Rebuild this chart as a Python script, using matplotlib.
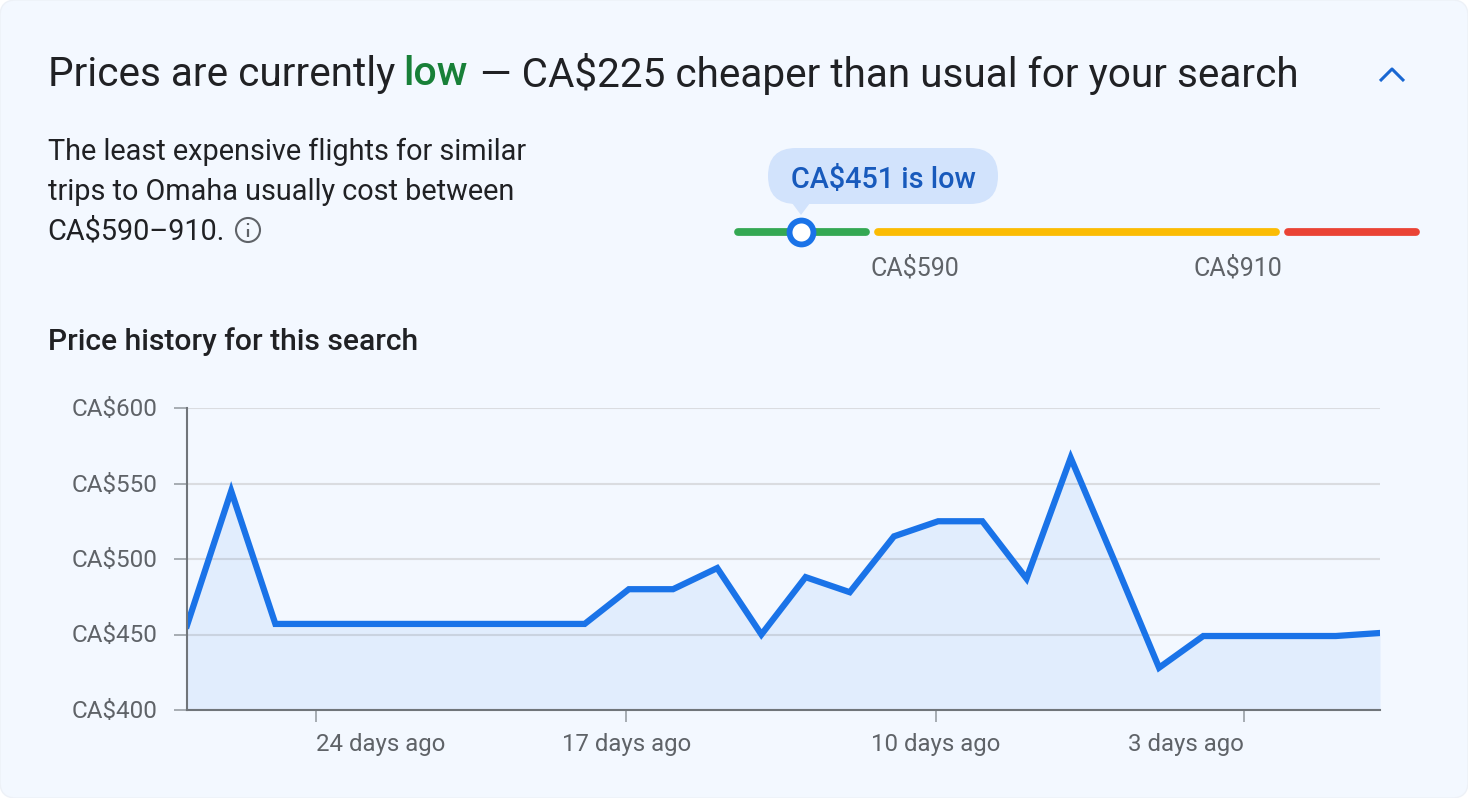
import matplotlib

matplotlib.use("Agg")
import matplotlib.pyplot as plt
import numpy as np
from matplotlib.patches import Circle, FancyBboxPatch, Polygon
from matplotlib.transforms import ScaledTranslation

plt.rcParams["font.family"] = ["Roboto", "DejaVu Sans"]

# price history, one value a day
days_ago = np.arange(27, -1, -1)
prices = [456, 545, 457, 457, 457, 457, 457, 457, 457, 457, 480, 480, 494, 450,
          488, 478, 515, 525, 525, 487, 567, 498, 428, 449, 449, 449, 449, 451]
y_ticks = [400, 450, 500, 550, 600]
y_tick_labels = ["CA$400", "CA$450", "CA$500", "CA$550", "CA$600"]
x_ticks = [24.08, 17.06, 10.05, 3.08]
x_tick_labels = ["24 days ago", "17 days ago", "10 days ago", "3 days ago"]

# price range slider
range_lows = [316, 590, 910]
range_highs = [590, 910, 1018]
range_colors = ["#34A853", "#FBBC04", "#EA4335"]
current_price = 451

W, H = 1468, 798
BG = "#F3F8FF"
DARK = "#202124"
GREY = "#5F6368"
BLUE = "#1A73E8"

fig = plt.figure(figsize=(W / 100, H / 100), dpi=100, facecolor="white")

# overlay in pixel coordinates for the card, the text and the slider
ov = fig.add_axes([0, 0, 1, 1])
ov.set_xlim(0, W)
ov.set_ylim(H, 0)
ov.axis("off")
ov.add_patch(FancyBboxPatch((0, 0), W, H, boxstyle="round,pad=0,rounding_size=16",
                            fc=BG, ec="#EDF1F7", lw=1, clip_on=False))

# title
ov.text(48, 74, "Prices are currently", fontsize=29.2, color=DARK, va="center")
ov.text(403, 74, "low", fontsize=29.6, color="#188038", va="center", fontweight="medium")
ov.text(480.5, 74, "— CA$225 cheaper than usual for your search", fontsize=29.2,
        color=DARK, va="center")
ov.plot([1380, 1392, 1404], [81, 69, 81], color="#1967D2", lw=2.2, solid_capstyle="butt")

# description
for y, line in zip([152, 192, 232], ["The least expensive flights for similar",
                                     "trips to Omaha usually cost between",
                                     "CA$590–910."]):
    ov.text(47.5, y, line, fontsize=20.8, color=DARK, va="center")
ov.add_patch(Circle((248, 230), 12, fc="none", ec=GREY, lw=1.5))
ov.plot([248, 248], [229, 237], color=GREY, lw=1.6, solid_capstyle="butt")
ov.plot([248, 248], [222.5, 225], color=GREY, lw=1.6, solid_capstyle="butt")


def track_x(price):
    # the slider is not linear, each range has its own width
    return np.interp(price, [316, 590, 910, 1018], [732, 872, 1282, 1422])


for lo, hi, c in zip(range_lows, range_highs, range_colors):
    ov.plot([track_x(lo) + 6, track_x(hi) - 6], [232, 232], color=c, lw=5.6,
            solid_capstyle="round")
ov.plot(track_x(current_price), 232, "o", ms=17.2, mfc="white", mec=BLUE, mew=4.2, zorder=5)
ov.text(870.5, 268, "CA$590", fontsize=18, color=GREY, va="center", ha="left")
ov.text(1282.5, 268, "CA$910", fontsize=18, color=GREY, va="center", ha="right")

# bubble
ov.add_patch(FancyBboxPatch((768, 148), 230, 56, boxstyle="round,pad=0,rounding_size=28",
                            fc="#D2E3FC", ec="none"))
ov.add_patch(Polygon([(792, 203), (810, 203), (801, 215)], fc="#D2E3FC", ec="none"))
ov.text(883, 180, "CA$451 is low", fontsize=20.7, color="#185ABC", va="center", ha="center",
        fontweight="medium")

ov.text(48, 342, "Price history for this search", fontsize=21.6, color=DARK, va="center",
        fontweight="medium")

# chart
ax = fig.add_axes([187 / W, 1 - 710 / H, (1380 - 187) / W, (710 - 408) / H])
ax.patch.set_alpha(0)
ax.set_xlim(27, 0)
ax.set_ylim(400, 600)
ax.set_axisbelow(True)
ax.grid(axis="y", color="#DADCE0", lw=1.5)
ax.fill_between(days_ago, prices, 400, color=BLUE, alpha=0.08, lw=0)
ax.plot(days_ago, prices, color=BLUE, lw=4.5, solid_joinstyle="miter")

for s in ["top", "right"]:
    ax.spines[s].set_visible(False)
for s in ["left", "bottom"]:
    ax.spines[s].set_color("#70757A")
    ax.spines[s].set_linewidth(1.5)

ax.set_yticks(y_ticks, y_tick_labels)
ax.set_xticks(x_ticks, x_tick_labels)
ax.tick_params(axis="y", length=9.4, width=1.2, color="#9AA0A6", labelsize=17.5,
               labelcolor=GREY, pad=11.5)
ax.tick_params(axis="x", length=8.6, width=1.2, color="#9AA0A6", labelsize=17.3,
               labelcolor=GREY, pad=8.2)
for lab, ha in zip(ax.get_xticklabels(), ["left", "center", "center", "right"]):
    lab.set_ha(ha)
# y labels sit a pixel higher than matplotlib puts them
nudge = ScaledTranslation(0, 1 / 100, fig.dpi_scale_trans)
for lab in ax.get_yticklabels():
    lab.set_transform(lab.get_transform() + nudge)

fig.savefig("out.png", dpi=100, facecolor="white")
